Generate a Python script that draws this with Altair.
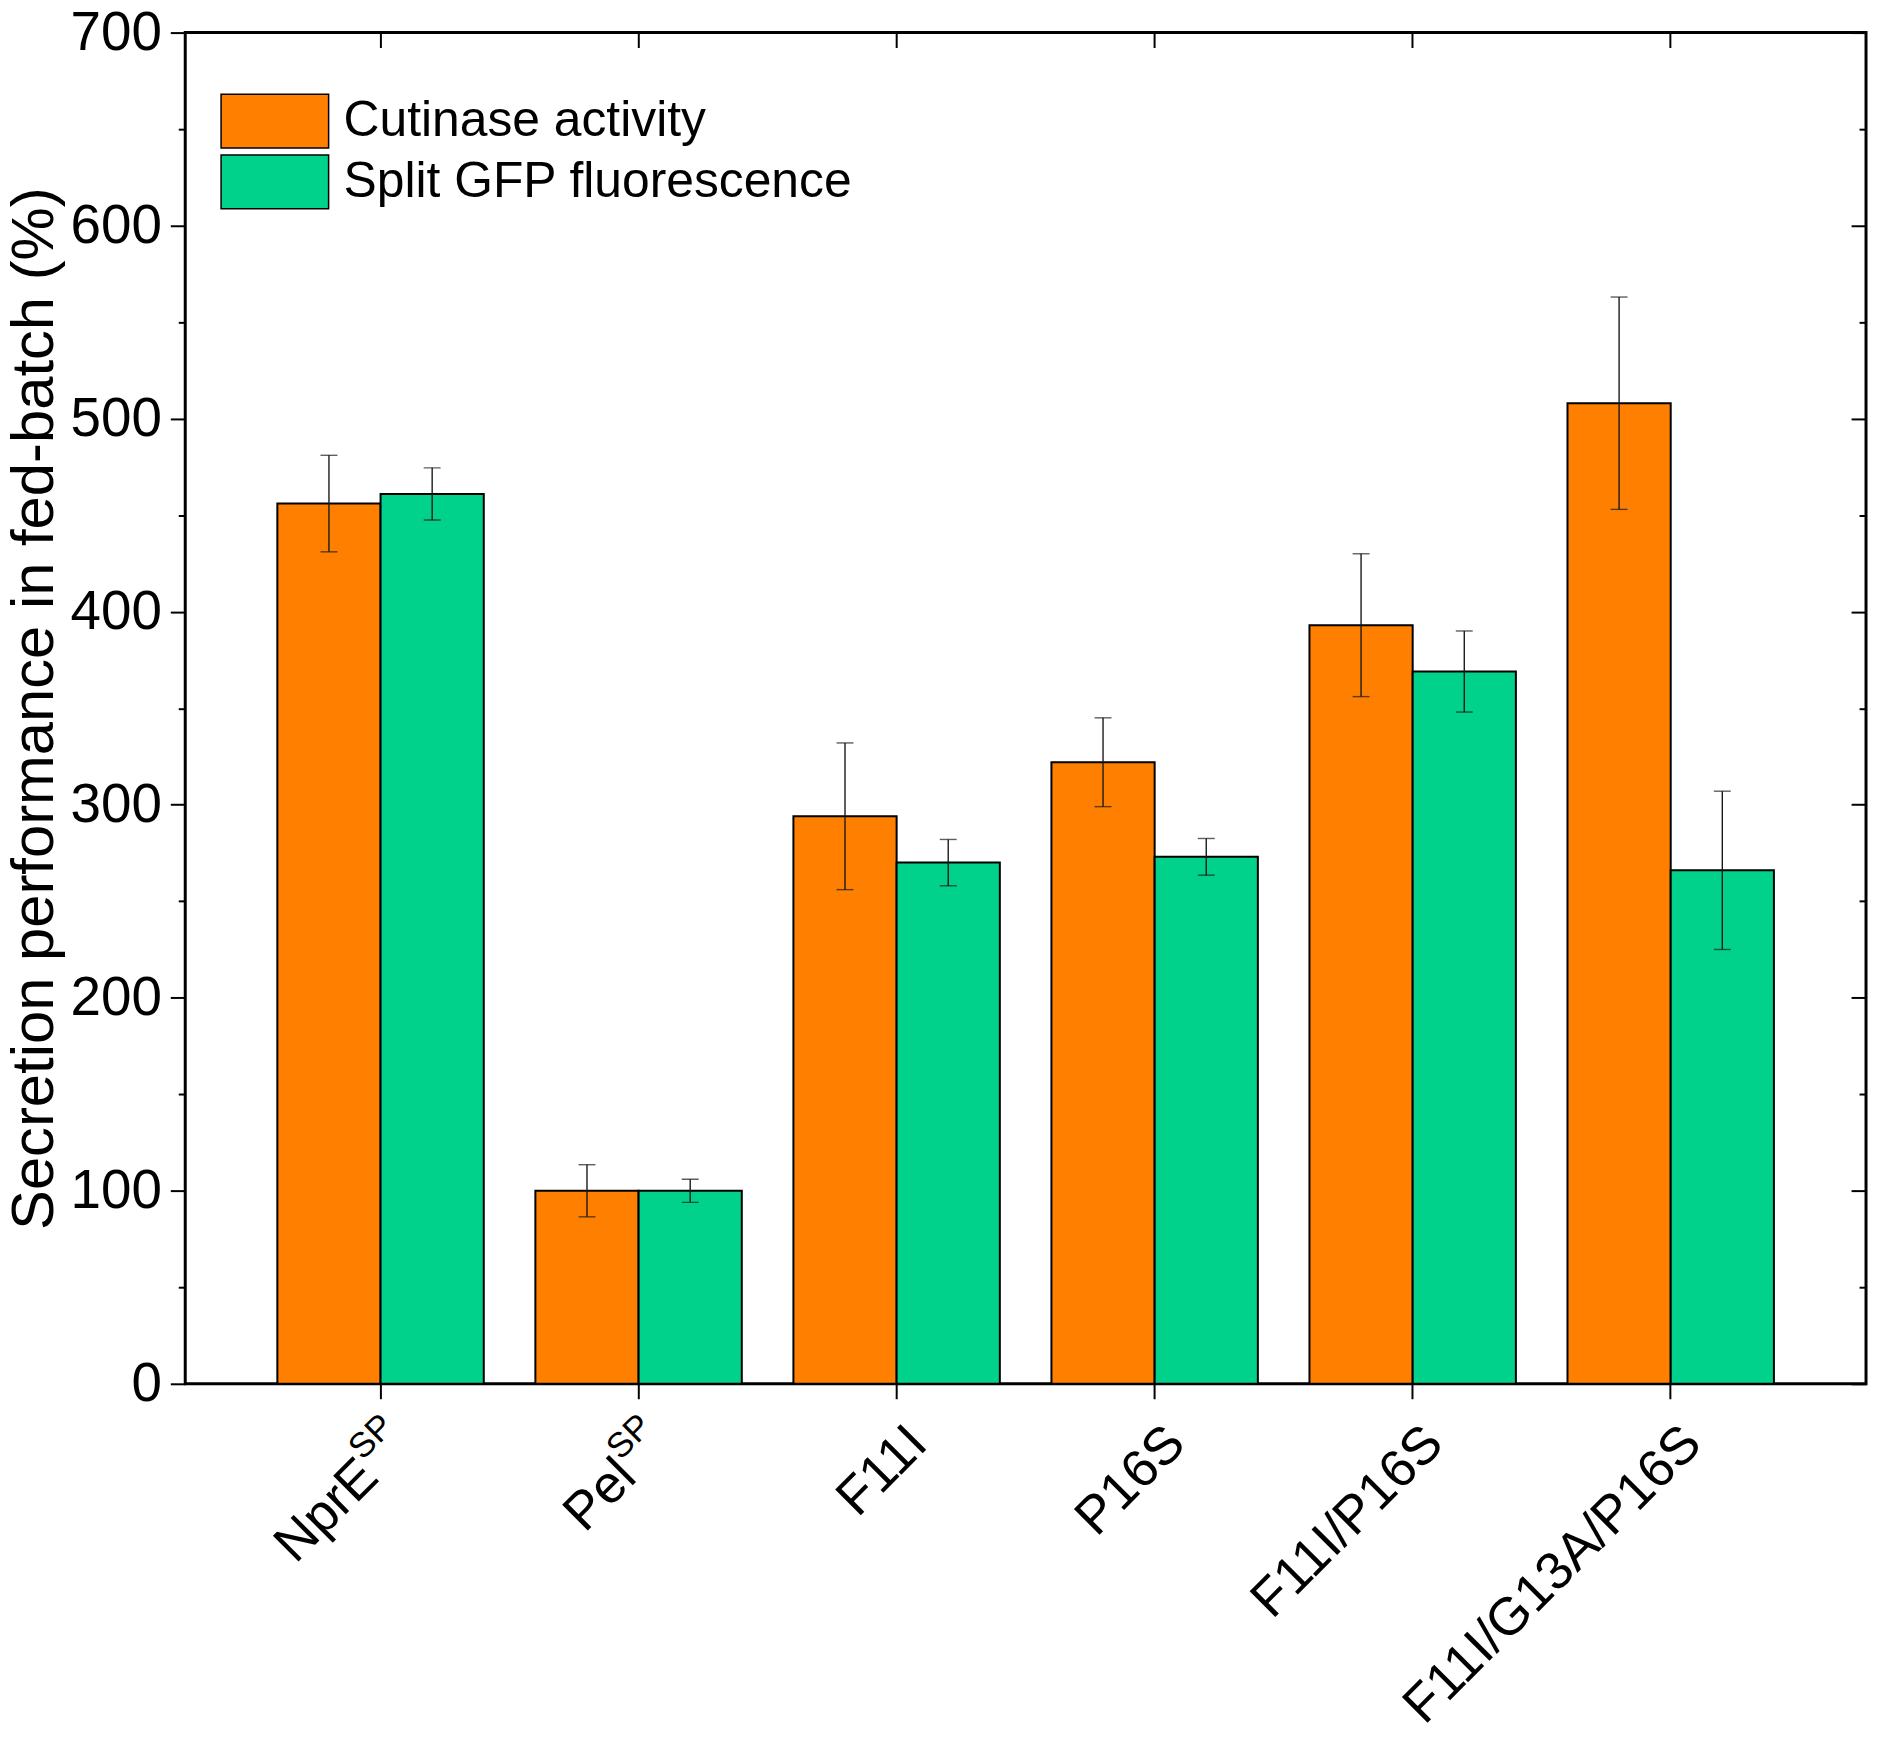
import altair as alt
import pandas as pd

# ---- data ----
categories = ["NprE", "Pel", "F11I", "P16S", "F11I/P16S", "F11I/G13A/P16S"]
label_main = ["NprE", "Pel", "F11I", "P16S", "F11I/P16S", "F11I/G13A/P16S"]
label_sup = ["SP", "SP", "", "", "", ""]
series = ["Cutinase activity", "Split GFP fluorescence"]
colors = ["#FF8000", "#00D28C"]

cutinase = [456, 100, 294, 322, 393, 508]
cutinase_err = [25, 13.5, 38, 23, 37, 55]
gfp = [461, 100, 270, 273, 369, 266]
gfp_err = [13.5, 6, 12, 9.5, 21, 41]

major_ticks = [0, 100, 200, 300, 400, 500, 600, 700]
minor_ticks = [50, 150, 250, 350, 450, 550, 650]

rows = []
for i, c in enumerate(categories):
    rows.append(dict(cat=c, series=series[0], value=cutinase[i], err=cutinase_err[i]))
    rows.append(dict(cat=c, series=series[1], value=gfp[i], err=gfp_err[i]))
df = pd.DataFrame(rows)
df["low"] = df["value"] - df["err"]
df["high"] = df["value"] + df["err"]

labels_df = pd.DataFrame({"cat": categories, "main": label_main, "sup": label_sup})

FONT = "Liberation Sans"

xs = alt.Scale(domain=categories, paddingInner=0.2, paddingOuter=0.357)
xo = alt.Scale(domain=series, paddingInner=0, paddingOuter=0)
ys = alt.Scale(domain=[0, 700], nice=False, zero=True)

common_axis = dict(domain=False, grid=False, tickColor="black", tickWidth=2,
                   labelFont=FONT, labelColor="black", titleFont=FONT, titleColor="black")

bars = alt.Chart(df).mark_bar(stroke="black", strokeWidth=2, opacity=1).encode(
    x=alt.X("cat:N", scale=xs,
            axis=alt.Axis(orient="bottom", labels=False, title=None, tickSize=15, **common_axis)),
    xOffset=alt.XOffset("series:N", scale=xo),
    y=alt.Y("value:Q", scale=ys,
            axis=alt.Axis(orient="left", values=major_ticks, tickSize=15, labelFontSize=55,
                          labelPadding=9, title="Secretion performance in fed-batch (%)",
                          titleFontSize=60, titleFontWeight="normal", titlePadding=5,
                          **common_axis)),
    color=alt.Color("series:N", scale=alt.Scale(domain=series, range=colors),
                    legend=alt.Legend(title=None, orient="none", legendX=62, legendY=61,
                                      symbolType="M-2,-1H2V1H-2Z", symbolSize=2916,
                                      symbolStrokeColor="black", symbolStrokeWidth=1.5,
                                      symbolOpacity=1, labelFontSize=50, labelFont=FONT,
                                      labelColor="black", labelOffset=41, rowPadding=1,
                                      padding=0, labelLimit=0)),
)

rules = alt.Chart(df).mark_rule(color="#1a1a1a", strokeWidth=1.4).encode(
    x=alt.X("cat:N", scale=xs,
            axis=alt.Axis(orient="top", offset=-15, labels=False, title=None, tickSize=15,
                          **common_axis)),
    xOffset=alt.XOffset("series:N", scale=xo),
    y=alt.Y("low:Q", scale=ys,
            axis=alt.Axis(orient="left", values=minor_ticks, labels=False, title=None,
                          tickSize=7, **common_axis)),
    y2="high:Q",
)

cap_lo = alt.Chart(df).mark_tick(color="#1a1a1a", thickness=1.4, size=17).encode(
    x=alt.X("cat:N", scale=xs, axis=None),
    xOffset=alt.XOffset("series:N", scale=xo),
    y=alt.Y("low:Q", scale=ys,
            axis=alt.Axis(orient="right", offset=-15, values=major_ticks, labels=False,
                          title=None, tickSize=15, **common_axis)),
)

cap_hi = alt.Chart(df).mark_tick(color="#1a1a1a", thickness=1.4, size=17).encode(
    x=alt.X("cat:N", scale=xs, axis=None),
    xOffset=alt.XOffset("series:N", scale=xo),
    y=alt.Y("high:Q", scale=ys,
            axis=alt.Axis(orient="right", offset=-7, values=minor_ticks, labels=False,
                          title=None, tickSize=7, **common_axis)),
)

lab_plain = alt.Chart(labels_df).transform_filter("datum.sup == ''").mark_text(
    angle=315, align="right", baseline="alphabetic", fontSize=53, font=FONT,
    color="black", dx=-21, dy=68,
).encode(
    x=alt.X("cat:N", scale=xs, axis=None),
    y=alt.YDatum(0, type="quantitative", scale=ys, axis=None),
    text="main:N",
)

lab_supmain = alt.Chart(labels_df).transform_filter("datum.sup != ''").mark_text(
    angle=315, align="right", baseline="alphabetic", fontSize=53, font=FONT,
    color="black", dx=-68, dy=68,
).encode(
    x=alt.X("cat:N", scale=xs, axis=None),
    y=alt.YDatum(0, type="quantitative", scale=ys, axis=None),
    text="main:N",
)

lab_sup = alt.Chart(labels_df).transform_filter("datum.sup != ''").mark_text(
    angle=315, align="right", baseline="alphabetic", fontSize=35, font=FONT,
    color="black", dx=-21, dy=42,
).encode(
    x=alt.X("cat:N", scale=xs, axis=None),
    y=alt.YDatum(0, type="quantitative", scale=ys, axis=None),
    text="sup:N",
)

chart = alt.layer(
    bars, rules, cap_lo, cap_hi, lab_plain, lab_supmain, lab_sup
).resolve_axis(
    x="independent", y="independent"
).properties(
    width=1688, height=1357,
    padding={"left": 178, "top": 21, "right": 6, "bottom": 344},
    autosize=alt.AutoSizeParams(type="none"),
).configure(
    font=FONT, background="white"
).configure_view(
    stroke="black", strokeWidth=3
)

chart.save("out.html", embed_options={"renderer": "svg", "actions": False})
